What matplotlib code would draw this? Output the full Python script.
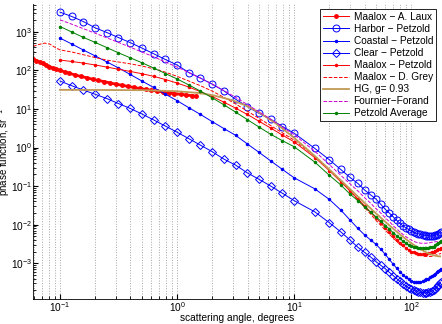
import matplotlib
matplotlib.use("Agg")
import matplotlib.pyplot as plt

plt.rcParams['font.family'] = ['Liberation Sans', 'DejaVu Sans']

# Petzold angles (degrees)
ang = [0.1, 0.126, 0.158, 0.2, 0.251, 0.316, 0.398, 0.501, 0.631, 0.794,
       1.0, 1.259, 1.585, 1.995, 2.512, 3.162, 3.981, 5.012, 6.31, 7.943,
       10, 15, 20, 25, 30, 35, 40, 45, 50, 55, 60, 65, 70, 75, 80, 85, 90,
       95, 100, 105, 110, 115, 120, 125, 130, 135, 140, 145, 150, 155, 160,
       165, 170, 175, 180]

harbor = [3240, 2500, 1850, 1270, 960, 710, 525, 380, 270, 192,
          138, 88, 63, 44, 29.5, 17.9, 11.5, 7.7, 5.4, 3.5,
          2.35, 0.95, 0.48, 0.27, 0.168, 0.117, 0.079, 0.059, 0.046, 0.0335,
          0.025, 0.020, 0.016, 0.013, 0.0108, 0.0093, 0.0083, 0.0075, 0.0068,
          0.0063, 0.0060, 0.0058, 0.0056, 0.0054, 0.0053, 0.0052, 0.0052,
          0.0051, 0.0051, 0.0052, 0.0053, 0.0055, 0.0058, 0.0062, 0.0066]

coastal = [690, 484, 339, 237, 166, 116, 78.5, 53, 36, 24.3,
           16.4, 10.8, 7.2, 4.7, 3.1, 2.07, 1.24, 0.75, 0.45, 0.27,
           0.164, 0.085, 0.045, 0.024, 0.0132, 0.0080, 0.0054, 0.0040, 0.0031, 0.0023,
           0.0017, 0.00125, 0.00095, 0.00075, 0.0006, 0.0005, 0.00043, 0.00038,
           0.00035, 0.00033, 0.00032, 0.00032, 0.00033, 0.00034, 0.00036, 0.00038,
           0.0004, 0.00043, 0.00046, 0.0005, 0.00054, 0.00058, 0.00063, 0.00068, 0.00072]

clear = [53, 40, 31, 24, 18.6, 13.8, 10.3, 7.4, 5.2, 3.6,
         2.5, 1.7, 1.15, 0.78, 0.5, 0.35, 0.22, 0.15, 0.1, 0.065,
         0.042, 0.0215, 0.0112, 0.0065, 0.004, 0.0026, 0.0019, 0.00145, 0.0011, 0.00088,
         0.00072, 0.00058, 0.00048, 0.0004, 0.00034, 0.00029, 0.00026, 0.00023,
         0.00021, 0.0002, 0.00019, 0.00018, 0.000175, 0.00017, 0.00017, 0.00017,
         0.000175, 0.00018, 0.00019, 0.0002, 0.00022, 0.00024, 0.00027, 0.0003, 0.00033]

maalox_petzold = [185, 170, 155, 138, 122, 107, 94, 82, 70, 58,
                  47, 37, 28, 21, 15, 10.5, 7.2, 4.8, 3.2, 2.1,
                  1.4, 0.55, 0.25, 0.13, 0.075, 0.047, 0.031, 0.021, 0.015, 0.011,
                  0.0083, 0.0064, 0.0051, 0.0041, 0.0034, 0.0029, 0.0025, 0.0022,
                  0.002, 0.0019, 0.0018, 0.0017, 0.0017, 0.0017, 0.0017, 0.0017,
                  0.0018, 0.0018, 0.0019, 0.002, 0.0021, 0.0022, 0.0023, 0.0024, 0.0025]

petzold_avg = [1370, 990, 720, 530, 390, 285, 212, 158, 115, 83,
               60, 42, 29, 19.5, 12.8, 8.3, 5.3, 3.4, 2.2, 1.5,
               1.05, 0.42, 0.19, 0.107, 0.062, 0.042, 0.029, 0.021, 0.016, 0.0123,
               0.0095, 0.0078, 0.0062, 0.0052, 0.0044, 0.0037, 0.0033, 0.003,
               0.0028, 0.0026, 0.0026, 0.0025, 0.0025, 0.0025, 0.0025, 0.0025,
               0.0025, 0.0026, 0.0026, 0.0027, 0.0029, 0.0031, 0.0033, 0.0035, 0.0037]

fournier = [2050, 1580, 1210, 920, 700, 530, 400, 300, 225, 165,
            122, 88, 63, 44, 30, 20, 13, 8.4, 5.4, 3.4,
            2.15, 0.8, 0.36, 0.19, 0.115, 0.075, 0.05, 0.036, 0.026, 0.02,
            0.015, 0.012, 0.0095, 0.0078, 0.0065, 0.0056, 0.0049, 0.0044,
            0.004, 0.0037, 0.0035, 0.0034, 0.0033, 0.0033, 0.0033, 0.0033,
            0.0034, 0.0034, 0.0035, 0.0035, 0.0036, 0.0036, 0.0037, 0.0037, 0.0037]

# Maalox - D. Grey
grey_ang = [0.059, 0.066, 0.074, 0.082, 0.09, 0.1, 0.126, 0.158, 0.2, 0.251,
            0.316, 0.398, 0.501, 0.631, 0.794, 1.0, 1.259, 1.585, 1.995, 2.512,
            3.162, 3.981, 5.012, 6.31, 7.943, 10, 15, 20, 25, 30, 40, 50, 60,
            70, 80, 90, 100, 110, 120, 130, 140, 150, 160, 170, 180]
grey = [420, 470, 510, 480, 400, 340, 300, 255, 215, 185,
        165, 148, 130, 110, 90, 70, 53, 40, 29, 20,
        13.5, 8.8, 5.7, 3.7, 2.4, 1.55, 0.6, 0.27, 0.14, 0.075, 0.028, 0.013, 0.0072,
        0.0045, 0.0031, 0.0024, 0.002, 0.0017, 0.0016, 0.0015, 0.0015, 0.0015, 0.0016, 0.0017, 0.0018]

# Maalox - A. Laux
laux_ang = [0.059, 0.063, 0.067, 0.071, 0.076, 0.081, 0.087, 0.093, 0.1, 0.11,
            0.12, 0.135, 0.15, 0.17, 0.19, 0.21, 0.24, 0.27, 0.3, 0.34,
            0.38, 0.43, 0.48, 0.54, 0.6, 0.68, 0.76, 0.85, 0.95, 1.07,
            1.2, 1.35, 1.45]
laux = [200, 180, 165, 152, 138, 126, 115, 107, 100, 91,
        84, 76, 70, 64, 59, 55, 51, 47, 44, 41,
        38.5, 36, 34, 32, 30.5, 29, 27.5, 26, 25, 24,
        23, 22, 21.5]

# HG, g = 0.93
hg_ang = [0.1, 0.5, 1, 1.5, 2, 3, 4, 5, 7, 10, 15, 20, 25, 30, 35, 40, 45,
          50, 60, 70, 80, 90, 100, 110, 120, 130, 140, 150, 160, 170, 180]
hg = [31.3, 30.7, 28.8, 26.1, 22.9, 16.7, 11.7, 8.2, 4.18, 1.78, 0.603, 0.268,
      0.142, 0.0839, 0.0539, 0.0368, 0.0264, 0.0196, 0.01189, 0.00789, 0.00561,
      0.00422, 0.00332, 0.00272, 0.0023, 0.00201, 0.0018, 0.00166, 0.00157,
      0.00151, 0.0015]

fig = plt.figure(figsize=(4.42, 3.24), dpi=100)
ax = fig.add_axes([0.075, 0.078, 0.923, 0.91])

lw = 0.7
# thick dotted band for the Laux data, thin line in the legend
ax.plot(laux_ang, laux, '-', color='red', lw=2.0)
ax.plot(laux_ang, laux, '.-', color='red', lw=lw, ms=5, label='Maalox − A. Laux')
ax.plot(ang, harbor, 'o-', color='blue', lw=lw, ms=5, mfc='none', mew=0.7, label='Harbor − Petzold')
ax.plot(ang, coastal, '.-', color='blue', lw=lw, ms=3, label='Coastal − Petzold')
ax.plot(ang, clear, 'D-', color='blue', lw=lw, ms=4, mfc='none', mew=0.7, label='Clear − Petzold')
ax.plot(ang, maalox_petzold, '.-', color='red', lw=lw, ms=3, label='Maalox − Petzold')
ax.plot(grey_ang, grey, '--', color='red', lw=lw, label='Maalox − D. Grey')
ax.plot(hg_ang, hg, '-', color='#c09a55', lw=1.3, label='HG, g= 0.93')
ax.plot(ang, fournier, '--', color='#d000d0', lw=lw, label='Fournier−Forand')
ax.plot(ang, petzold_avg, '.-', color='green', lw=lw, ms=3, label='Petzold Average')

ax.set_xscale('log')
ax.set_yscale('log')
ax.set_xlim(0.059, 180)
ax.set_ylim(1.2e-4, 5.3e3)

ax.grid(True, which='both', axis='x', linestyle=':', color='0.65', lw=0.7)
ax.tick_params(which='both', direction='in', labelsize=7.3, pad=1)
ax.tick_params(which='major', length=3.5)
ax.tick_params(which='minor', length=2)
for s in ['top', 'right']:
    ax.spines[s].set_visible(False)
for s in ['left', 'bottom']:
    ax.spines[s].set_linewidth(0.6)

ax.set_xlabel('scattering angle, degrees', fontsize=7.3)
ax.set_ylabel('phase function, sr$^{-1}$', fontsize=7.0)
ax.xaxis.set_label_coords(0.5, -0.048)
ax.yaxis.set_label_coords(-0.051, 0.5)

leg = ax.legend(loc='upper right', fontsize=7.3, handlelength=2.6, labelspacing=0.2,
                borderaxespad=0.5, fancybox=False, edgecolor='black', framealpha=1,
                borderpad=0.3, handletextpad=0.4)
leg.get_frame().set_linewidth(0.6)

fig.savefig('out.png', dpi=100)
